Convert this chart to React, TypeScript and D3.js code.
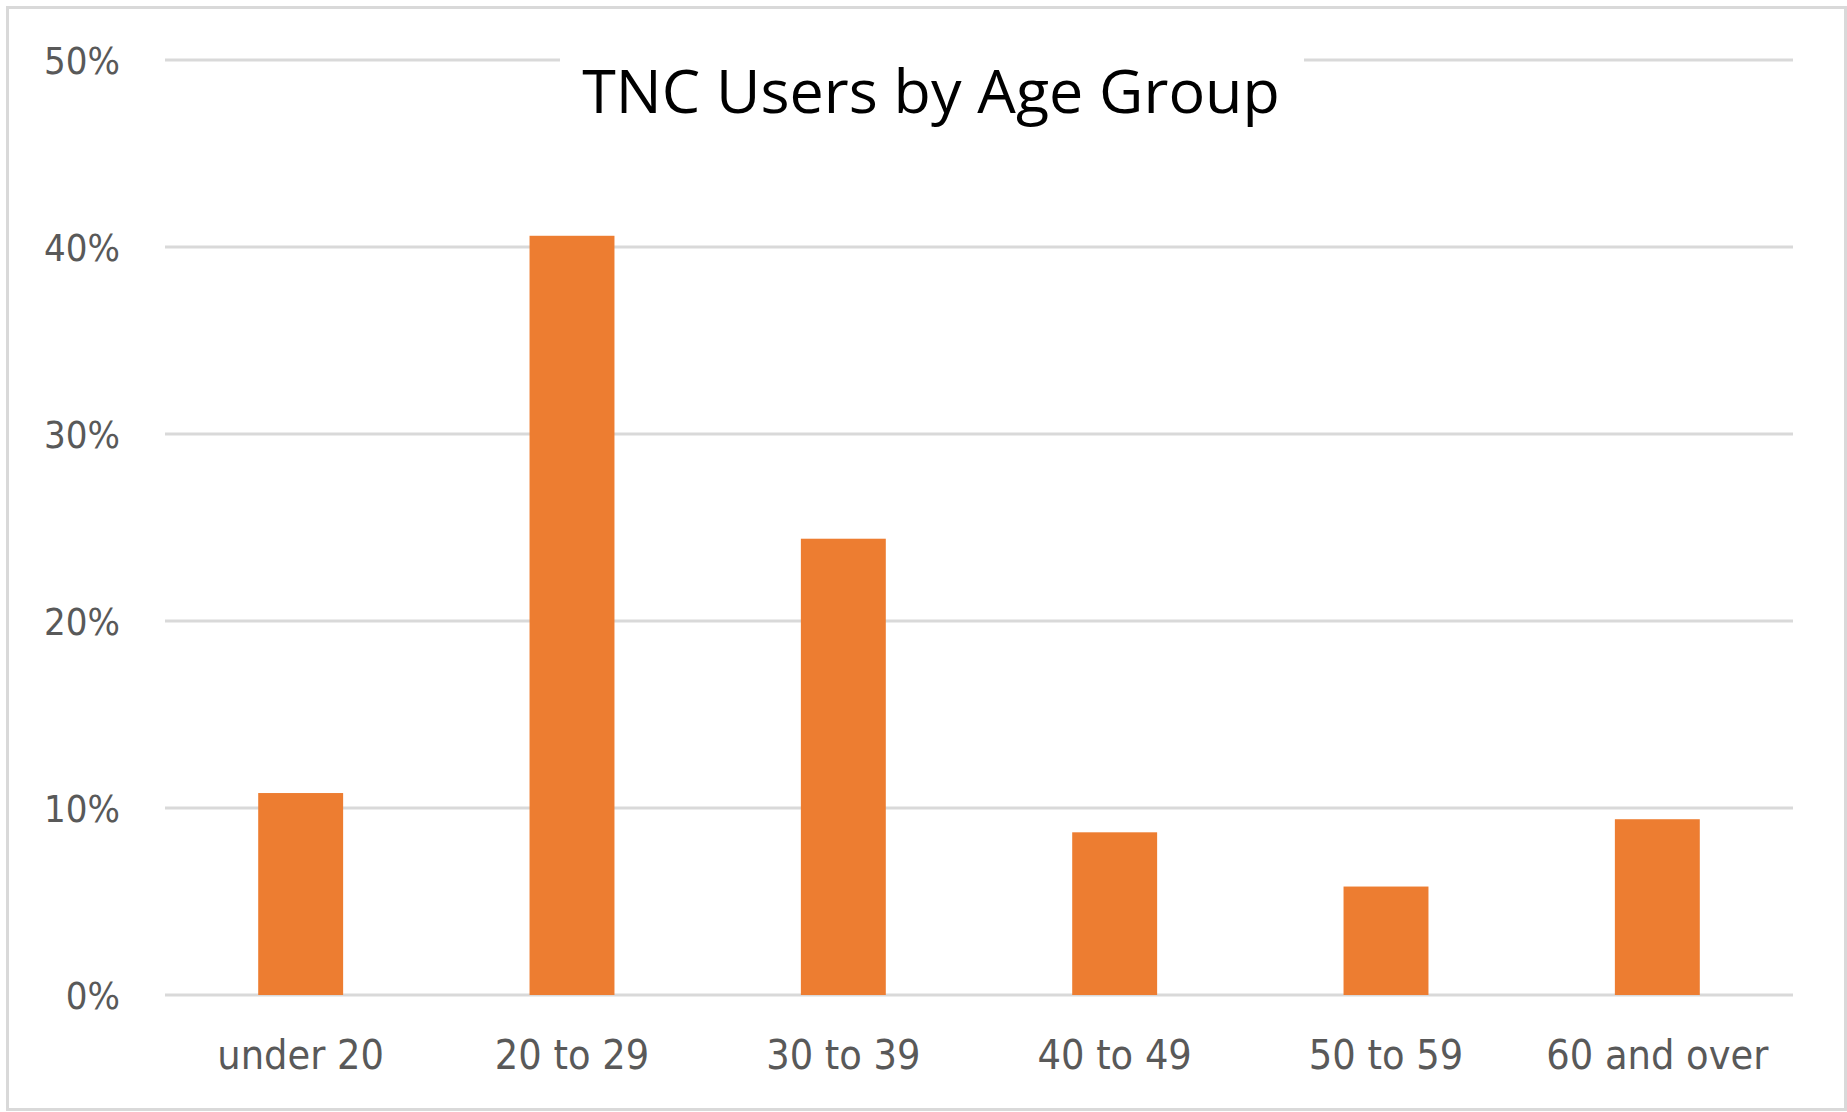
import React, { useEffect, useRef } from 'react';
import * as d3 from 'd3';

const categories = ['under 20', '20 to 29', '30 to 39', '40 to 49', '50 to 59', '60 and over'];
const shares = [10.8, 40.6, 24.4, 8.7, 5.8, 9.4];
const yTicks = [0, 10, 20, 30, 40, 50];
const title = 'TNC Users by Age Group';

const W = 1847;
const H = 1112;

const App = () => {
    const chartRef = useRef<SVGSVGElement | null>(null);

    useEffect(() => {
        if (!chartRef.current) return;
        const svg = d3.select(chartRef.current);
        svg.selectAll('*').remove();

        const left = 165;
        const right = 1793;
        const top = 60;
        const bottom = 995;

        // chart frame
        svg.append('rect')
            .attr('x', 7.5)
            .attr('y', 7.5)
            .attr('width', W - 9)
            .attr('height', H - 10)
            .attr('fill', 'white')
            .attr('stroke', '#d9d9d9')
            .attr('stroke-width', 3);

        const x = d3.scaleBand<string>()
            .domain(categories)
            .range([left, right])
            .paddingInner(0.687)
            .paddingOuter(0.3435);

        const y = d3.scaleLinear().domain([0, 50]).range([bottom, top]);

        // gridlines (top one is broken where the title sits)
        const titleGap: [number, number] = [560, 1304];
        yTicks.forEach((t) => {
            const yy = y(t);
            const segs: [number, number][] = t === 50
                ? [[left, titleGap[0]], [titleGap[1], right]]
                : [[left, right]];
            segs.forEach(([a, b]) => {
                svg.append('line')
                    .attr('x1', a)
                    .attr('x2', b)
                    .attr('y1', yy)
                    .attr('y2', yy)
                    .attr('stroke', '#d9d9d9')
                    .attr('stroke-width', 3);
            });
        });

        // y tick labels
        svg.append('g')
            .selectAll('text')
            .data(yTicks)
            .join('text')
            .attr('x', 120)
            .attr('y', (d) => y(d))
            .attr('dy', '0.36em')
            .attr('text-anchor', 'end')
            .attr('font-family', '"DejaVu Sans Condensed", "DejaVu Sans", sans-serif')
            .attr('font-stretch', 'condensed')
            .attr('font-size', 38)
            .attr('fill', '#595959')
            .text((d) => `${d}%`);

        // bars
        svg.append('g')
            .selectAll('rect')
            .data(shares)
            .join('rect')
            .attr('x', (_, i) => x(categories[i])!)
            .attr('y', (d) => y(d))
            .attr('width', x.bandwidth())
            .attr('height', (d) => y(0) - y(d))
            .attr('fill', '#ED7D31');

        // category labels
        svg.append('g')
            .selectAll('text')
            .data(categories)
            .join('text')
            .attr('x', (d) => x(d)! + x.bandwidth() / 2)
            .attr('y', 1069)
            .attr('text-anchor', 'middle')
            .attr('font-family', '"DejaVu Sans Condensed", "DejaVu Sans", sans-serif')
            .attr('font-stretch', 'condensed')
            .attr('font-size', 41)
            .attr('fill', '#595959')
            .text((d) => d);

        // title
        svg.append('text')
            .attr('x', 931)
            .attr('y', 113)
            .attr('text-anchor', 'middle')
            .attr('font-family', '"Open Sans", sans-serif')
            .attr('font-size', 61)
            .attr('fill', '#000')
            .text(title);
    }, []);

    return (
        <svg
            ref={chartRef}
            width={W}
            height={H}
            style={{ position: 'absolute', left: 0, top: 0, background: 'white' }}
        ></svg>
    );
};

export default App;
